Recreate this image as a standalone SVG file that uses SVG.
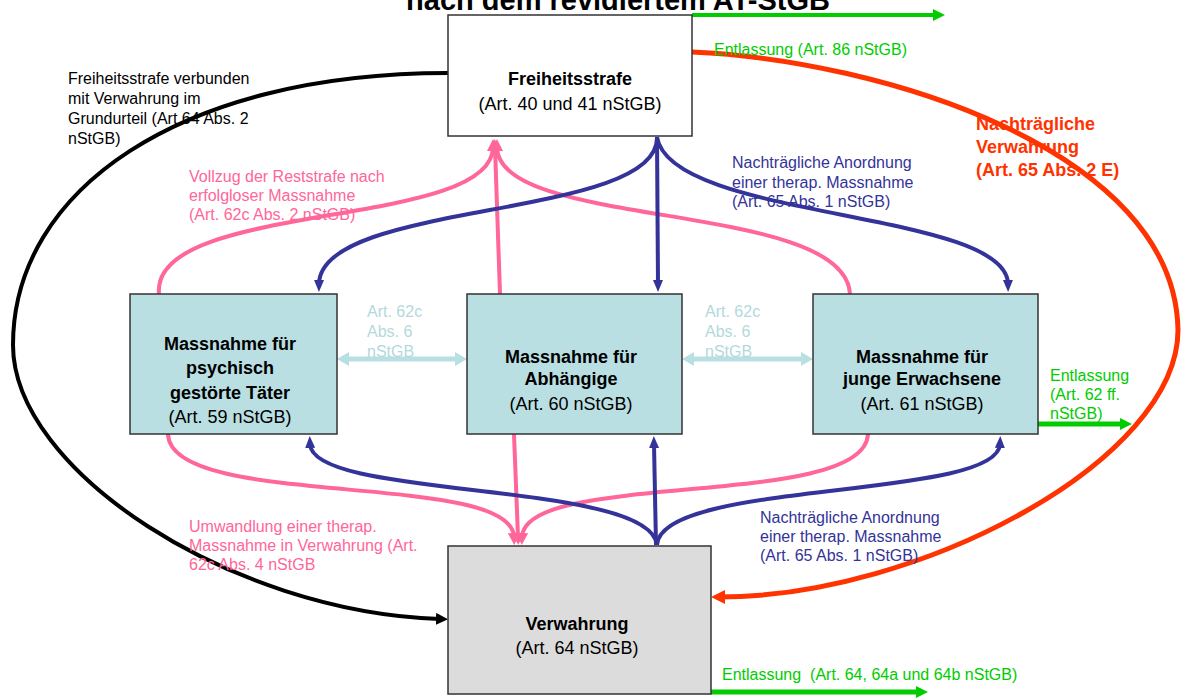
<svg xmlns="http://www.w3.org/2000/svg" width="1181" height="698" viewBox="0 0 1181 698">
<style>
text{font-family:"Liberation Sans",Arial,sans-serif}
.box{stroke:#333;stroke-width:1.5}
.white{fill:#fff}
.mass{fill:#b9dfe2}
.grey{fill:#dcdcdc}
.nt{font-size:18px;text-anchor:middle;fill:#000}
.b{font-weight:bold}
.ann{font-size:16px}
.pink{fill:#ff6699}
.blue{fill:#333399}
.lb{fill:#b3d9dc}
.green{fill:#00cc00}
.red{fill:#ff3300;font-weight:bold;font-size:18px}
.c{fill:none}
.cp{stroke:#ff6699;stroke-width:4}
.cb{stroke:#333399;stroke-width:4}
</style>
<defs>
<marker id="mBlack" markerUnits="userSpaceOnUse" markerWidth="12" markerHeight="12" viewBox="0 0 12 12" refX="4" refY="6" orient="auto"><path d="M0,0 L12,6 L0,12 z" fill="#000"/></marker>
<marker id="mRed" markerUnits="userSpaceOnUse" markerWidth="14" markerHeight="14" viewBox="0 0 14 14" refX="6" refY="7" orient="auto"><path d="M0,0 L14,7 L0,14 z" fill="#ff3300"/></marker>
<marker id="mGreen" markerUnits="userSpaceOnUse" markerWidth="12" markerHeight="12" viewBox="0 0 12 12" refX="2" refY="6" orient="auto"><path d="M0,0 L12,6 L0,12 z" fill="#00cc00"/></marker>
<marker id="mPink" markerUnits="userSpaceOnUse" markerWidth="12" markerHeight="12" viewBox="0 0 12 12" refX="4" refY="6" orient="auto"><path d="M0,0 L12,6 L0,12 z" fill="#ff6699"/></marker>
<marker id="mBlue" markerUnits="userSpaceOnUse" markerWidth="12" markerHeight="12" viewBox="0 0 12 12" refX="4" refY="6" orient="auto"><path d="M0,1 L12,6 L0,11 z" fill="#333399"/></marker>
<marker id="mLb" markerUnits="userSpaceOnUse" markerWidth="12" markerHeight="14" viewBox="0 0 12 14" refX="3" refY="7" orient="auto-start-reverse"><path d="M0,0 L12,7 L0,14 z" fill="#b9dfe2"/></marker>
</defs>

<text x="618" y="10" class="b" style="font-size:29px;text-anchor:middle;fill:#000">nach dem revidiertem AT-StGB</text>

<g id="connectors" class="c">
<path d="M448,73 C180,73 13,190 13,345 C13,470 230,612 440,619" stroke="#000" stroke-width="4" fill="none" marker-end="url(#mBlack)"/>
<path d="M692,52 C880,60 1175,150 1178,330 C1178,460 920,597 719,597" stroke="#ff3300" stroke-width="5" fill="none" marker-end="url(#mRed)"/>
<path d="M692,15 L935,15" stroke="#00cc00" stroke-width="4" marker-end="url(#mGreen)"/>
<path d="M1038,424 L1122,424" stroke="#00cc00" stroke-width="5" marker-end="url(#mGreen)"/>
<path d="M711,692 L918,692" stroke="#00cc00" stroke-width="5" marker-end="url(#mGreen)"/>
<path d="M159,294 C150,200 493,230 493,147" class="c cp" marker-end="url(#mPink)"/>
<path d="M500,294 L495,147" class="c cp" stroke-width="3.5" marker-end="url(#mPink)"/>
<path d="M850,294 C845,200 497,230 497,147" class="c cp" marker-end="url(#mPink)"/>
<path d="M657,137 C660,220 320,200 319,284" class="c cb" marker-end="url(#mBlue)"/>
<path d="M657,137 L658,284" class="c cb" marker-end="url(#mBlue)"/>
<path d="M657,137 C670,220 1007,210 1008,284" class="c cb" marker-end="url(#mBlue)"/>
<path d="M168,434 C170,510 512,470 514,537" class="c cp" marker-end="url(#mPink)"/>
<path d="M514,434 L518,537" class="c cp" marker-end="url(#mPink)"/>
<path d="M868,434 C865,510 524,470 522,537" class="c cp" marker-end="url(#mPink)"/>
<path d="M657,545 C650,480 312,500 310,444" class="c cb" marker-end="url(#mBlue)"/>
<path d="M656,545 L654,444" class="c cb" marker-end="url(#mBlue)"/>
<path d="M657,545 C660,480 998,500 1000,444" class="c cb" marker-end="url(#mBlue)"/>
<path d="M346,359 L458,359" stroke="#b9dfe2" stroke-width="5" marker-start="url(#mLb)" marker-end="url(#mLb)"/>
<path d="M691,359 L804,359" stroke="#b9dfe2" stroke-width="5" marker-start="url(#mLb)" marker-end="url(#mLb)"/>
</g>

<g id="freiheitsstrafe">
<rect x="448" y="15" width="244" height="121" class="box white"/>
<text x="570" y="85" class="nt b">Freiheitsstrafe</text>
<text x="570" y="110" class="nt">(Art. 40 und 41 nStGB)</text>
</g>
<g id="massnahme-psych">
<rect x="130" y="294" width="207" height="140" class="box mass"/>
<text x="230" y="350" class="nt b">Massnahme für</text>
<text x="230" y="374" class="nt b">psychisch</text>
<text x="230" y="399" class="nt b">gestörte Täter</text>
<text x="230" y="423" class="nt">(Art. 59 nStGB)</text>
</g>
<g id="massnahme-abh">
<rect x="467" y="294" width="215" height="140" class="box mass"/>
<text x="571" y="363" class="nt b">Massnahme für</text>
<text x="571" y="385" class="nt b">Abhängige</text>
<text x="571" y="410" class="nt">(Art. 60 nStGB)</text>
</g>
<g id="massnahme-jung">
<rect x="813" y="294" width="225" height="140" class="box mass"/>
<text x="922" y="363" class="nt b">Massnahme für</text>
<text x="922" y="385" class="nt b">junge Erwachsene</text>
<text x="922" y="410" class="nt">(Art. 61 nStGB)</text>
</g>
<g id="verwahrung">
<rect x="448" y="546" width="263" height="148" class="box grey"/>
<text x="577" y="630" class="nt b">Verwahrung</text>
<text x="577" y="654" class="nt">(Art. 64 nStGB)</text>
</g>

<g id="labels" class="ann">
<text class="ann green" x="714" y="55">Entlassung (Art. 86 nStGB)</text>
<text class="ann" x="68" y="84" fill="#000">Freiheitsstrafe verbunden</text>
<text class="ann" x="68" y="104" fill="#000">mit Verwahrung im</text>
<text class="ann" x="68" y="124" fill="#000">Grundurteil (Art 64 Abs. 2</text>
<text class="ann" x="68" y="144" fill="#000">nStGB)</text>
<text class="ann pink" x="189" y="182">Vollzug der Reststrafe nach</text>
<text class="ann pink" x="189" y="201">erfolgloser Massnahme</text>
<text class="ann pink" x="189" y="220">(Art. 62c Abs. 2 nStGB)</text>
<text class="ann blue" x="732" y="168">Nachträgliche Anordnung</text>
<text class="ann blue" x="732" y="188">einer therap. Massnahme</text>
<text class="ann blue" x="732" y="207">(Art. 65 Abs. 1 nStGB)</text>
<text class="red" x="976" y="130">Nachträgliche</text>
<text class="red" x="976" y="153">Verwahrung</text>
<text class="red" x="976" y="176">(Art. 65 Abs. 2 E)</text>
<text class="ann lb" x="367" y="317">Art. 62c</text>
<text class="ann lb" x="367" y="337">Abs. 6</text>
<text class="ann lb" x="367" y="357">nStGB</text>
<text class="ann lb" x="705" y="317">Art. 62c</text>
<text class="ann lb" x="705" y="337">Abs. 6</text>
<text class="ann lb" x="705" y="357">nStGB</text>
<text class="ann green" x="1050" y="381">Entlassung</text>
<text class="ann green" x="1050" y="400">(Art. 62 ff.</text>
<text class="ann green" x="1050" y="419">nStGB)</text>
<text class="ann pink" x="189" y="532">Umwandlung einer therap.</text>
<text class="ann pink" x="189" y="551">Massnahme in Verwahrung (Art.</text>
<text class="ann pink" x="189" y="570">62c Abs. 4 nStGB</text>
<text class="ann blue" x="760" y="523">Nachträgliche Anordnung</text>
<text class="ann blue" x="760" y="542">einer therap. Massnahme</text>
<text class="ann blue" x="760" y="561">(Art. 65 Abs. 1 nStGB)</text>
<text class="ann green" x="722" y="680" xml:space="preserve">Entlassung  (Art. 64, 64a und 64b nStGB)</text>
</g>
</svg>
